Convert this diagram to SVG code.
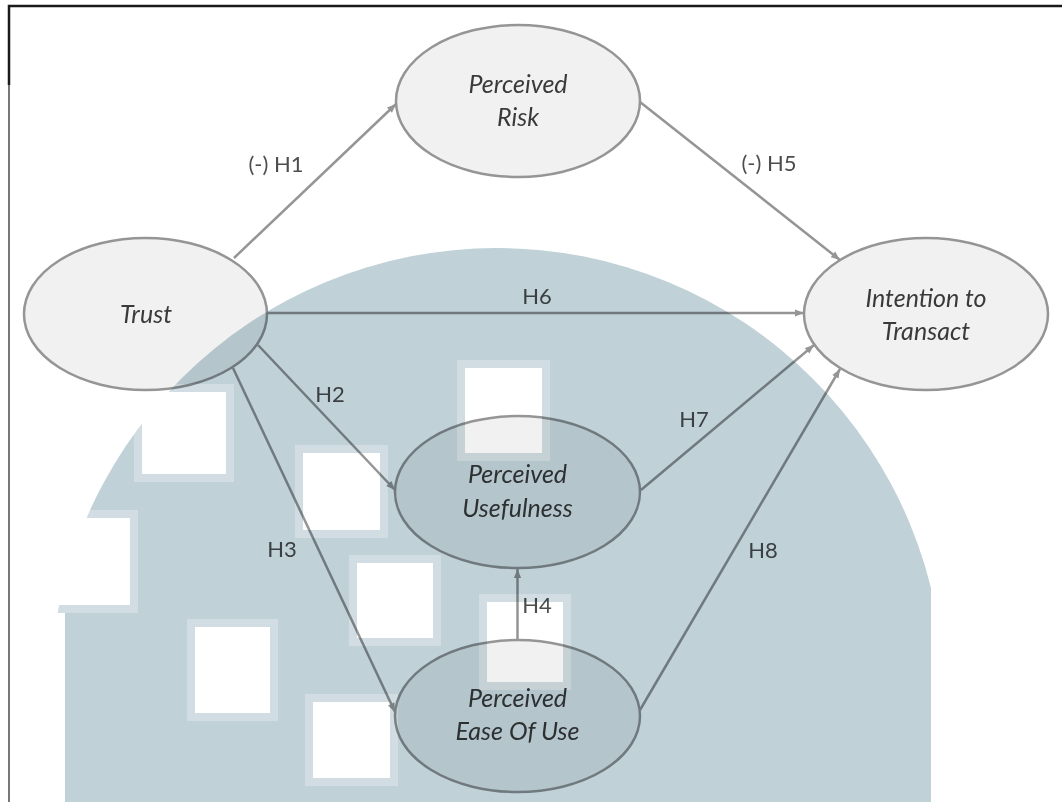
<svg xmlns="http://www.w3.org/2000/svg" width="1062" height="802" viewBox="0 0 1062 802">
  <style>
    .node ellipse { fill: #f1f1f1; stroke: #959595; stroke-width: 2.5; }
    .node text { font-family: Lato, "Liberation Sans", sans-serif; font-style: italic; font-size: 25px; fill: #3a3a3a; text-anchor: middle; }
    .edge { stroke: #959595; stroke-width: 2.5; fill: none; marker-end: url(#ah); }
    .lbl { font-family: Lato, "Liberation Sans", sans-serif; font-size: 22px; fill: #4d4d4d; text-anchor: middle; }
    .wm { mix-blend-mode: multiply; }
  </style>
  <defs>
    <marker id="ah" viewBox="0 0 10 10" refX="10" refY="5" markerWidth="11" markerHeight="9" markerUnits="userSpaceOnUse" orient="auto">
      <path d="M0,1 L10,5 L0,9 z" fill="#959595"/>
    </marker>
    <mask id="wmmask" maskUnits="userSpaceOnUse" x="0" y="0" width="1062" height="802">
      <rect x="0" y="0" width="1062" height="802" fill="#fff"/>
      <rect x="931" y="0" width="131" height="802" fill="#000"/>
      <rect x="0" y="605" width="65" height="197" fill="#000"/>
      <rect x="0" y="510" width="138" height="103" fill="#bbb"/>
      <rect x="0" y="518" width="130" height="87" fill="#000"/>
      <rect x="134" y="384" width="100" height="98" fill="#bbb"/>
      <rect x="142" y="392" width="84" height="82" fill="#000"/>
      <rect x="457" y="360" width="93" height="101" fill="#bbb"/>
      <rect x="465" y="368" width="77" height="85" fill="#000"/>
      <rect x="295" y="445" width="93" height="93" fill="#bbb"/>
      <rect x="303" y="453" width="77" height="77" fill="#000"/>
      <rect x="349" y="555" width="92" height="91" fill="#bbb"/>
      <rect x="357" y="563" width="76" height="75" fill="#000"/>
      <rect x="479" y="594" width="92" height="96" fill="#bbb"/>
      <rect x="487" y="602" width="76" height="80" fill="#000"/>
      <rect x="305" y="694" width="93" height="92" fill="#bbb"/>
      <rect x="313" y="702" width="77" height="76" fill="#000"/>
      <rect x="187" y="619" width="91" height="102" fill="#bbb"/>
      <rect x="195" y="627" width="75" height="86" fill="#000"/>
    </mask>
  </defs>

  <rect x="0" y="0" width="1062" height="802" fill="#ffffff"/>
  <path d="M9,802 V85" stroke="#777777" stroke-width="2" fill="none"/>
  <path d="M9,85 V6 H1062" stroke="#1a1a1a" stroke-width="2.5" fill="none"/>

  <g id="connectors">
    <path class="edge" d="M234,258 L396,104"/>
    <path class="edge" d="M640,102 L840,260"/>
    <path class="edge" d="M267,313 L804,313"/>
    <path class="edge" d="M258,345 L395,490"/>
    <path class="edge" d="M233,368 L395,712"/>
    <path class="edge" d="M641,490 L814,345"/>
    <path class="edge" d="M640,710 L840,369"/>
    <path class="edge" d="M517.5,640 L517.5,569"/>
    <text class="lbl" x="276" y="172">(-) H1</text>
    <text class="lbl" x="769" y="171">(-) H5</text>
    <text class="lbl" x="537" y="304">H6</text>
    <text class="lbl" x="330" y="402">H2</text>
    <text class="lbl" x="694" y="427">H7</text>
    <text class="lbl" x="282" y="557">H3</text>
    <text class="lbl" x="763" y="558">H8</text>
    <text class="lbl" x="537" y="613">H4</text>
  </g>

  <g id="node-risk" class="node">
    <ellipse cx="518" cy="101" rx="122" ry="76"/>
    <text x="518" y="93">Perceived</text>
    <text x="518" y="126">Risk</text>
  </g>
  <g id="node-trust" class="node">
    <ellipse cx="145.5" cy="314" rx="121.5" ry="76"/>
    <text x="146" y="323">Trust</text>
  </g>
  <g id="node-intention" class="node">
    <ellipse cx="926" cy="314" rx="122" ry="76"/>
    <text x="926" y="307">Intention to</text>
    <text x="926" y="340">Transact</text>
  </g>
  <g id="node-usefulness" class="node">
    <ellipse cx="517.5" cy="492" rx="122.5" ry="76"/>
    <text x="517.5" y="483">Perceived</text>
    <text x="517.5" y="517">Usefulness</text>
  </g>
  <g id="node-ease" class="node">
    <ellipse cx="517.5" cy="716" rx="122.5" ry="76"/>
    <text x="517.5" y="707">Perceived</text>
    <text x="517.5" y="740">Ease Of Use</text>
  </g>

  <g id="watermark" class="wm">
    <circle cx="497" cy="695" r="447" fill="#c0d1d8" mask="url(#wmmask)"/>
  </g>
</svg>
